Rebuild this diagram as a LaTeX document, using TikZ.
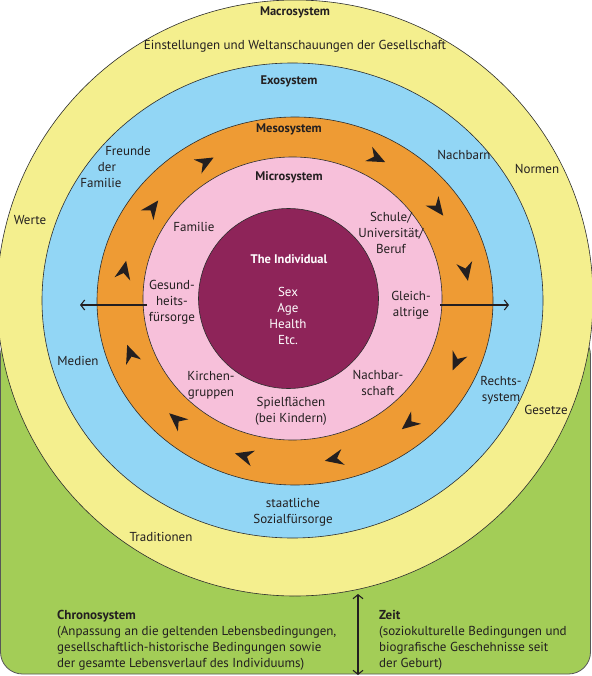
\documentclass[tikz,border=0pt]{standalone}
\usepackage{fontspec}
\setmainfont{PT Sans}
\usetikzlibrary{arrows.meta}
\definecolor{cmacro}{RGB}{244,239,142}
\definecolor{cexo}{RGB}{146,214,245}
\definecolor{cmeso}{RGB}{238,155,52}
\definecolor{cmicro}{RGB}{247,192,218}
\definecolor{cind}{RGB}{142,36,89}
\definecolor{cchrono}{RGB}{163,205,87}
\definecolor{ctxt}{RGB}{35,31,32}
\definecolor{cedge}{RGB}{45,45,45}
\begin{document}
\begin{tikzpicture}[x=1pt,y=-1pt,
  ring/.style={draw=cedge, line width=0.6pt},
  lbl/.style={text=ctxt, font=\fontsize{13}{16}\selectfont, align=center, inner sep=0pt},
  ttl/.style={text=ctxt, font=\fontsize{12.5}{16}\selectfont\bfseries, align=center, inner sep=0pt},
  wlbl/.style={text=white, font=\fontsize{13}{16}\selectfont, align=center, inner sep=0pt},
  wttl/.style={text=white, font=\fontsize{12.5}{16}\selectfont\bfseries, align=center, inner sep=0pt},
  outarrow/.style={draw=ctxt, line width=1.1pt, -{Straight Barb[length=4pt,width=10pt]}},
  dblarrow/.style={draw=ctxt, line width=1.1pt, {Straight Barb[length=4pt,width=10pt]}-{Straight Barb[length=4pt,width=10pt]}},
  ringarrow/.pic={\fill[ctxt] (9.5,0) -- (-9,-8) -- (-3,0) -- (-9,8) -- cycle;}]
\useasboundingbox (0,0) rectangle (591,676);
% chronosystem background
\draw[fill=cchrono, draw=cedge!80, line width=0.8pt, rounded corners=22pt] (0.5,333) rectangle (590.5,674);
% rings
\draw[ring, fill=cmacro] (295,298) circle [radius=298];
\draw[ring, fill=cexo] (292.5,300.5) ellipse [x radius=250.5, y radius=237.5];
\draw[ring, fill=cmeso] (295,301) ellipse [x radius=198, y radius=184];
\draw[ring, fill=cmicro] (292.5,298.5) ellipse [x radius=149.5, y radius=141.5];
\draw[ring, fill=cind] (288.5,298.5) circle [radius=90];
% circulating arrowheads in the mesosystem (clockwise)
\foreach \t in {121,145,169,199,227,253,283,311,338,10.5,35,62} {
  \pgfmathsetmacro\ang{atan2(-162*cos(\t),174*sin(\t))}
  \pic[rotate=\ang] at ({295+174*cos(\t)},{301-162*sin(\t)}) {ringarrow};
}
% labels
\node[ttl] (macro) at (295,12) {Macrosystem};
\node[lbl] (einst) at (295,46) {Einstellungen und Weltanschauungen der Gesellschaft};
\node[ttl] (exo) at (289,81) {Exosystem};
\node[ttl] (meso) at (289,129) {Mesosystem};
\node[ttl] (micro) at (289,177) {Microsystem};
\node[lbl] (fr1) at (128,151) {Freunde};
\node[lbl] (fr2) at (107,167) {der};
\node[lbl] (fr3) at (101,183) {Familie};
\node[lbl] (nachbarn) at (464,155) {Nachbarn};
\node[lbl] (normen) at (537,169) {Normen};
\node[lbl] (werte) at (30,220) {Werte};
\node[lbl] (familie) at (194,227) {Familie};
\node[lbl] (schule) at (391,233) {Schule/\\Universität/\\Beruf};
\node[wttl] (indiv) at (289,259) {The Individual};
\node[wlbl] (sex) at (288,316) {Sex\\Age\\Health\\Etc.};
\node[lbl] (gesund) at (172,302) {Gesund-\\heits-\\fürsorge};
\node[lbl] (gleich) at (411,305) {Gleich-\\altrige};
\node[lbl] (medien) at (78,361) {Medien};
\node[lbl] (kirchen) at (211,385) {Kirchen-\\gruppen};
\node[lbl] (nachbar) at (378,383) {Nachbar-\\schaft};
\node[lbl] (spiel) at (291,411) {Spielflächen\\(bei Kindern)};
\node[lbl] (rechts) at (501,390) {Rechts-\\system};
\node[lbl] (gesetze) at (546,410) {Gesetze};
\node[lbl] (staat) at (293,512) {staatliche\\Sozialfürsorge};
\node[lbl] (trad) at (161,537) {Traditionen};
\node[lbl, align=left, anchor=west] (chrono) at (57,640) {\textbf{Chronosystem}\\(Anpassung an die geltenden Lebensbedingungen,\\gesellschaftlich-historische Bedingungen sowie\\der gesamte Lebensverlauf des Individuums)};
\node[lbl, align=left, anchor=west] (zeit) at (379,640) {\textbf{Zeit}\\(soziokulturelle Bedingungen und\\biografische Geschehnisse seit\\der Geburt)};
% arrows
\coordinate (lfrom) at (147,305);
\coordinate (lto) at (80,305);
\coordinate (rfrom) at (440,305);
\coordinate (rto) at (509,305);
\coordinate (ttop) at (358,594);
\coordinate (tbot) at (358,675);
\draw[outarrow] (lfrom) -- (lto);
\draw[outarrow] (rfrom) -- (rto);
\draw[dblarrow] (ttop) -- (tbot);
\end{tikzpicture}
\end{document}
